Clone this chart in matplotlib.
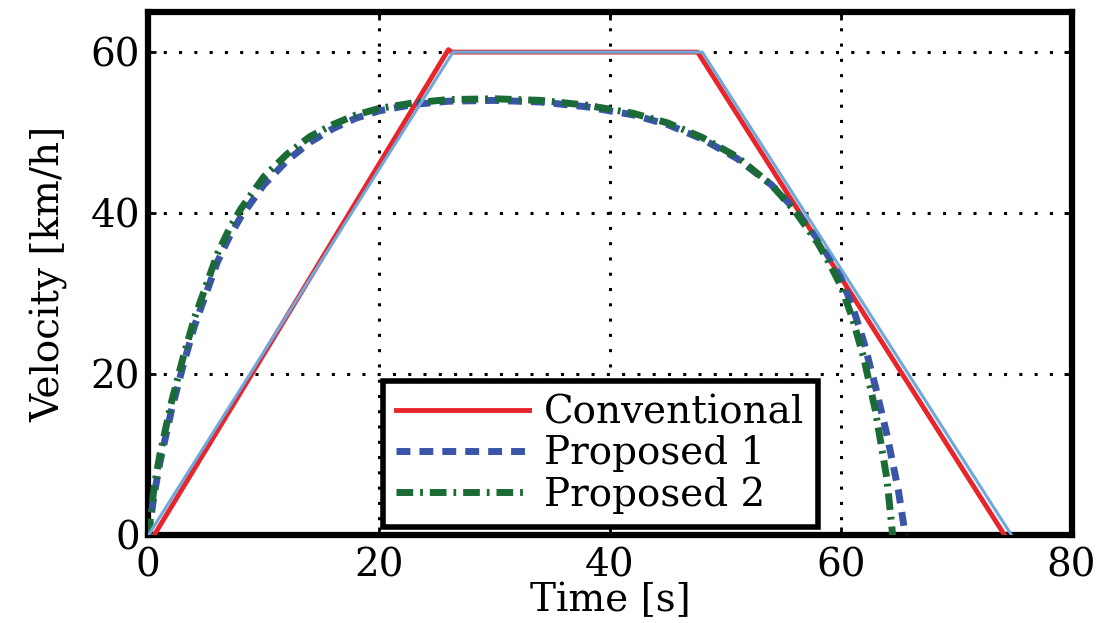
import numpy as np
import matplotlib.pyplot as plt

plt.rcParams['font.family'] = ['DejaVu Serif']

# Conventional trapezoid profile (red) and its reference (light blue)
t_conv = [0.5, 26.0, 26.3, 47.6, 74.2]
v_conv = [0.0, 60.3, 60.0, 60.0, 0.0]
t_ref = [0.0, 26.4, 48.0, 74.8]
v_ref = [0.0, 60.0, 60.0, 0.0]

# Proposed profiles
t_p1 = [0, 0.5, 1, 2, 3, 4, 5, 6, 7, 8, 10, 12, 14, 16, 18, 20, 23, 26, 30,
        34, 38, 42, 45, 48, 51, 54, 56, 58, 59, 60, 61, 62, 63, 64, 65, 65.6]
v_p1 = [0, 5, 9, 15.5, 21, 26, 30, 34, 37, 39.5, 43.5, 46.5, 48.8, 50.5, 51.8,
        52.7, 53.5, 53.9, 54.0, 53.8, 53.2, 52.2, 51.0, 49.2, 46.8, 43.5, 40.5,
        36.8, 34.5, 32.0, 28.5, 24.0, 18.5, 12.5, 5.5, 0.0]
t_p2 = [0, 0.5, 1, 2, 3, 4, 5, 6, 7, 8, 10, 12, 14, 16, 18, 20, 23, 26, 30,
        34, 38, 42, 45, 48, 51, 54, 56, 58, 59, 60, 61, 62, 63, 64, 64.5]
v_p2 = [0, 6, 10, 16.5, 22, 27, 31, 35, 38, 40.5, 44.5, 47.3, 49.5, 51.0, 52.2,
        53.0, 53.7, 54.1, 54.2, 54.0, 53.4, 52.4, 51.2, 49.4, 47.0, 43.5, 40.3,
        36.3, 33.8, 31.0, 27.0, 22.0, 15.5, 7.0, 0.0]

x_ticks = [0, 20, 40, 60, 80]
y_ticks = [0, 20, 40, 60]

fig = plt.figure(figsize=(10.99, 6.23), dpi=100)
ax = fig.add_axes([0.135, 0.141, 0.84, 0.84])

ax.plot(t_conv, v_conv, color='#e8252a', lw=3.5, label='Conventional', zorder=3)
ax.plot(t_ref, v_ref, color='#6fa8dc', lw=2.2, label='_nolegend_', zorder=4)
ax.plot(t_p1, v_p1, color='#3a55a8', lw=5, ls=(0, (2.0, 1.3)),
        label='Proposed 1', zorder=3)
ax.plot(t_p2, v_p2, color='#1a6b35', lw=5, ls=(0, (2.4, 1.0, 0.4, 1.0)),
        label='Proposed 2', zorder=3)

ax.set_xlim(0, 80)
ax.set_ylim(0, 65)
ax.set_xticks(x_ticks)
ax.set_yticks(y_ticks)
ax.grid(True, color='black', ls=(0, (1, 4)), lw=2.2)
ax.tick_params(direction='in', length=6, width=2, labelsize=28,
               top=True, right=True, pad=6)
ax.tick_params(axis='x', pad=9)
for s in ax.spines.values():
    s.set_linewidth(4.5)

ax.set_xlabel('Time [s]', fontsize=28, labelpad=-2)
ax.set_ylabel('Velocity [km/h]', fontsize=28, labelpad=16)

leg = ax.legend(loc='lower left', bbox_to_anchor=(0.254, 0.015), fontsize=28,
                handlelength=3.4, handletextpad=0.4, borderpad=0.35,
                labelspacing=0.1, borderaxespad=0, fancybox=False,
                framealpha=1, edgecolor='black')
leg.get_frame().set_linewidth(4)

fig.savefig('out.png', dpi=100)
